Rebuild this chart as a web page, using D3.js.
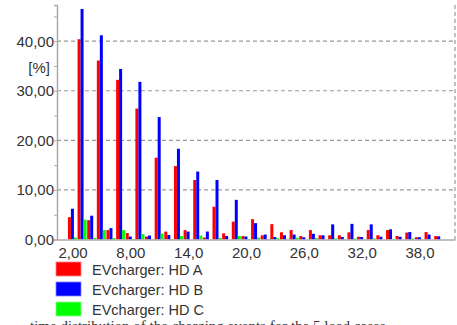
<!DOCTYPE html>
<html>
<head>
<meta charset="utf-8">
<script src="https://cdn.jsdelivr.net/npm/d3@7"></script>
<style>
  body { margin: 0; background: #fff; }
  svg { display: block; }
  text { font-family: 'Liberation Sans', Arial, sans-serif; fill: #333; }
</style>
</head>
<body>
<svg width="457" height="325"></svg>
<script>
// values
const categories = d3.range(2, 41); // 2 .. 40
const hdA = [4.5, 40.4, 3.9, 36.1, 1.9, 32.2, 1.3, 26.4, 0.6, 16.5, 1.6, 14.8, 1.9, 12.0, 0.4, 6.6, 1.25, 3.6, 0.7, 4.1,
  0.85, 3.1, 1.45, 1.9, 0.7, 1.9, 0.85, 0.85, 0.85, 1.45, 0.55, 1.9, 0.85, 1.9, 0.7, 1.4, 0.45, 1.5, 0.7];
const hdB = [6.2, 46.5, 4.8, 41.2, 2.3, 34.4, 0.6, 31.8, 0.8, 24.7, 0.9, 18.3, 1.6, 13.7, 1.6, 12.0, 0.7, 8.0, 0.6, 3.3,
  1.0, 0.5, 0.85, 1.0, 0.45, 1.15, 0.85, 3.05, 0.5, 3.15, 0.5, 3.05, 0.55, 2.05, 0.55, 1.5, 0.45, 1.0, 0.65];
const hdC = [0.4, 4.0, 0.3, 1.9, 0.3, 1.9, 0.1, 1.1, 0.1, 1.2, 0.1, 0.7, 0, 0.8, 0, 0.3, 0, 0.7, 0.1, 0.4,
  0.1, 0.3, 0, 0.35, 0, 0.3, 0, 0.2, 0, 0.2, 0, 0.2, 0, 0.1, 0, 0.2, 0, 0, 0];
const seriesNames = ['EVcharger: HD A', 'EVcharger: HD B', 'EVcharger: HD C'];
const seriesColors = ['#ff0000', '#0000ff', '#00ff00'];
const xTicks = [2, 8, 14, 20, 26, 32, 38];
const xTickLabels = ['2,00', '8,00', '14,0', '20,0', '26,0', '32,0', '38,0'];
const yTicks = [0, 10, 20, 30, 40];
const yTickLabels = ['0,00', '10,00', '20,00', '30,00', '40,00'];

const svg = d3.select('svg');

const padL = 57, padR = 455, padT = 5, padB = 239.5;

const x = d3.scaleLinear().domain([0.39, 41.68]).range([padL, padR]);
const y = d3.scaleLinear().domain([0, 47.3]).range([padB, padT]);
const sub = d3.scaleBand().domain([0, 1, 2]).range([-4.6, 4.4]);

// grid
svg.append('g')
  .selectAll('line')
  .data(yTicks.slice(1))
  .enter()
  .append('line')
  .attr('x1', padL)
  .attr('x2', padR)
  .attr('y1', (d) => y(d))
  .attr('y2', (d) => y(d))
  .attr('stroke', '#999')
  .attr('stroke-width', 1.2)
  .attr('stroke-dasharray', '4,3');

// right dashed border
svg.append('line')
  .attr('x1', padR).attr('x2', padR)
  .attr('y1', padT).attr('y2', padB)
  .attr('stroke', '#999')
  .attr('stroke-width', 1.2)
  .attr('stroke-dasharray', '4,3');

// bars
const series = [hdA, hdB, hdC];
const groups = svg.append('g')
  .selectAll('g')
  .data(categories)
  .enter()
  .append('g')
  .attr('transform', (d) => `translate(${x(d)},0)`);

groups.selectAll('rect')
  .data((d, i) => series.map((s, k) => ({ k: k, v: s[i] })))
  .enter()
  .append('rect')
  .attr('x', (d) => sub(d.k))
  .attr('width', sub.bandwidth())
  .attr('y', (d) => y(d.v))
  .attr('height', (d) => padB - y(d.v))
  .attr('fill', (d) => seriesColors[d.k]);

// y axis
const yAxis = svg.append('g').attr('transform', `translate(${padL},0)`)
  .call(d3.axisLeft(y)
    .tickValues(d3.range(0, 47, 5))
    .tickSize(3)
    .tickFormat((d) => {
      const i = yTicks.indexOf(d);
      return i >= 0 ? yTickLabels[i] : '';
    }));
yAxis.select('.domain').attr('stroke', '#aaa').attr('stroke-width', 1.5);
yAxis.selectAll('.tick line').attr('stroke', '#aaa');
yAxis.selectAll('.tick text')
  .attr('x', -3)
  .style('font-size', '15px')
  .style('font-family', "'Liberation Sans', Arial, sans-serif")
  .attr('fill', '#333');

svg.append('text')
  .attr('x', 50)
  .attr('y', 68)
  .attr('dy', '0.35em')
  .attr('text-anchor', 'end')
  .style('font-size', '15px')
  .text('[%]');

// x axis
const xAxis = svg.append('g').attr('transform', `translate(0,${padB})`)
  .call(d3.axisBottom(x)
    .tickValues(xTicks)
    .tickSize(0)
    .tickPadding(8)
    .tickFormat((d, i) => xTickLabels[i]));
xAxis.select('.domain').attr('stroke', '#aaa').attr('stroke-width', 1.5);
xAxis.selectAll('.tick text')
  .style('font-size', '15px')
  .style('font-family', "'Liberation Sans', Arial, sans-serif")
  .attr('fill', '#333');

// legend
const legend = svg.append('g')
  .selectAll('g')
  .data(seriesNames)
  .enter()
  .append('g')
  .attr('transform', (d, i) => `translate(56,${262 + i * 20})`);

legend.append('rect')
  .attr('width', 25)
  .attr('height', 14)
  .attr('fill', (d, i) => seriesColors[i])
  .attr('stroke', (d, i) => ['#ff8080', '#8080ff', '#80ff80'][i])
  .attr('stroke-width', 0.8);

legend.append('text')
  .attr('x', 36)
  .attr('y', 7.5)
  .attr('dy', '0.35em')
  .style('font-size', '14.5px')
  .text((d) => d);

// caption, cut off by the frame
svg.append('text')
  .attr('x', 30)
  .attr('y', 331)
  .style('font-family', "'Liberation Serif', 'Times New Roman', serif")
  .style('font-size', '15px')
  .attr('fill', '#000')
  .text('time distribution of the charging events for the 5 load cases');
</script>
</body>
</html>
